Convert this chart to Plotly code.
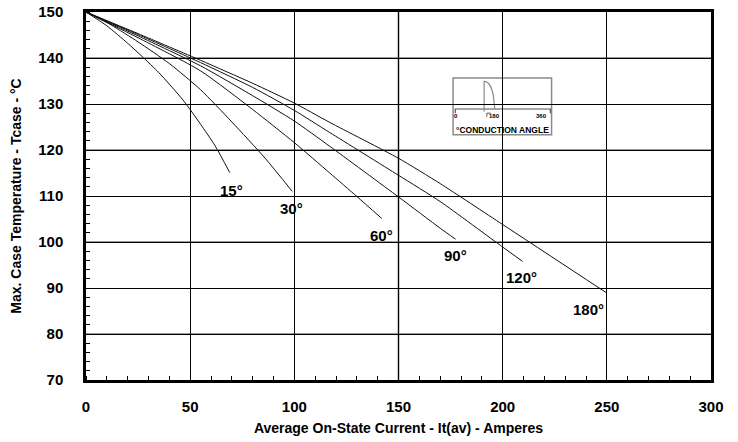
import plotly.graph_objects as go

# ---- data ----
angles = ["15°", "30°", "60°", "90°", "120°", "180°"]

i_15 = [0, 10, 20, 27, 35, 46.5, 55, 62, 69]
t_15 = [150, 147.0, 143.2, 140.3, 136.8, 130.9, 125.6, 120.9, 115.1]

i_30 = [0, 12, 25, 40, 55, 70, 86, 99]
t_30 = [150, 147.2, 143.5, 138.8, 133.1, 126.1, 118.2, 111.0]

i_60 = [0, 25, 55, 80, 100, 117, 130, 142]
t_60 = [150, 144.4, 137.2, 128.8, 121.6, 115.0, 109.9, 105.1]

i_90 = [0, 25, 55, 80, 100, 117, 150, 170, 177.4]
t_90 = [150, 144.8, 138.3, 131.8, 126.3, 120.8, 109.8, 103.0, 100.6]

i_120 = [0, 25, 55, 80, 100, 117, 150, 170, 200, 209.5]
t_120 = [150, 145.1, 139.0, 133.6, 128.6, 123.8, 114.5, 108.8, 98.9, 95.8]

i_180 = [0, 25, 55, 80, 100, 117, 150, 170, 200, 250]
t_180 = [150, 145.3, 139.5, 134.5, 130.2, 126.0, 118.2, 112.7, 103.8, 88.9]

series_i = [i_15, i_30, i_60, i_90, i_120, i_180]
series_t = [t_15, t_30, t_60, t_90, t_120, t_180]

# label anchor positions (data units)
label_i = [69.7, 98.6, 141.6, 177.2, 209.1, 241.1]
label_t = [111.2, 107.2, 101.4, 97.0, 92.2, 85.3]

x_ticks = [0, 50, 100, 150, 200, 250, 300]
y_ticks = [70, 80, 90, 100, 110, 120, 130, 140, 150]

FONT = "Arial, Liberation Sans, sans-serif"

fig = go.Figure()
for xs, ys, name in zip(series_i, series_t, angles):
    fig.add_trace(go.Scatter(
        x=xs, y=ys, mode="lines", name=name,
        line=dict(color="#111111", width=1, shape="spline", smoothing=0.6),
        showlegend=False, hoverinfo="skip"))

for li, lt, name in zip(label_i, label_t, angles):
    fig.add_annotation(x=li, y=lt, text=name, showarrow=False,
                       font=dict(family=FONT, size=15, color="black", weight="bold"),
                       xanchor="center", yanchor="middle")

shapes = []
# gray gridlines (alternate lines look gray in the reference)
for yv in [80, 100, 120, 140]:
    shapes.append(dict(type="line", xref="paper", x0=0, x1=1, yref="y", y0=yv, y1=yv,
                       line=dict(color="#9a9a9a", width=2), layer="between"))
shapes.append(dict(type="line", yref="paper", y0=0, y1=1, xref="x", x0=150, x1=150,
                   line=dict(color="#9a9a9a", width=2), layer="between"))

# inset (pixel -> paper conversion)
PX0, PX1, PY0, PY1 = 86.5, 711.0, 12.3, 380.3
def px(v):
    return (v - PX0) / (PX1 - PX0)
def py(v):
    return (PY1 - v) / (PY1 - PY0)

shapes.append(dict(type="rect", xref="paper", yref="paper",
                   x0=px(453.3), x1=px(551.7), y0=py(135), y1=py(78.3),
                   fillcolor="white", line=dict(color="#8a8a8a", width=1.5), layer="between"))
# baseline of inset axis
shapes.append(dict(type="line", xref="paper", yref="paper",
                   x0=px(455), x1=px(551), y0=py(109.3), y1=py(109.3),
                   line=dict(color="#555555", width=1.2), layer="between"))
for xv in [455.5, 550.5]:
    shapes.append(dict(type="line", xref="paper", yref="paper",
                       x0=px(xv), x1=px(xv), y0=py(109.3), y1=py(113.5),
                       line=dict(color="#555555", width=1.2), layer="between"))
# waveform (sine tail)
path = "M {a},{b} L {a},{c} Q {d},{c} {e},{f} L {g},{h}".format(
    a=px(484.3), b=py(111.7), c=py(81.7), d=px(491), e=px(493.5), f=py(96),
    g=px(495), h=py(109.3))
shapes.append(dict(type="path", xref="paper", yref="paper", path=path,
                   line=dict(color="#8a8a8a", width=1.2), layer="between"))
shapes.append(dict(type="path", xref="paper", yref="paper",
                   path="M {a},{b} L {a},{c} L {d},{c}".format(a=px(487), b=py(117), c=py(113.5), d=px(491)),
                   line=dict(color="#555555", width=1), layer="between"))
fig.update_layout(shapes=shapes)

for txt, xv in [("0", 456.5), ("180", 495), ("360", 541.5)]:
    fig.add_annotation(xref="paper", yref="paper", x=px(xv), y=py(116.5), text=txt,
                       showarrow=False, xanchor="center", yanchor="middle",
                       font=dict(family=FONT, size=6, color="black", weight="bold"))
fig.add_annotation(xref="paper", yref="paper", x=px(502.5), y=py(130.5), text="°CONDUCTION ANGLE",
                   showarrow=False, xanchor="center", yanchor="middle",
                   font=dict(family=FONT, size=8.5, color="black", weight="bold"))

fig.update_xaxes(
    range=[0, 300], tickvals=x_ticks, ticktext=[str(v) for v in x_ticks],
    showgrid=True, gridcolor="black", gridwidth=1,
    showline=True, linecolor="black", linewidth=2.5, mirror=True,
    ticks="", zeroline=False, ticklabelstandoff=11,
    tickfont=dict(family=FONT, size=15, color="black", weight="bold"),
    minor=dict(dtick=10, ticks="inside", ticklen=4, tickcolor="black", tickwidth=1, showgrid=False),
    title=dict(text="Average On-State Current - It(av) - Amperes", standoff=10,
               font=dict(family=FONT, size=14, color="black", weight="bold")))
fig.update_yaxes(
    range=[70, 150], tickvals=y_ticks, ticktext=[str(v) for v in y_ticks],
    showgrid=True, gridcolor="black", gridwidth=1,
    showline=True, linecolor="black", linewidth=2.5, mirror=True,
    ticks="", zeroline=False, ticklabelstandoff=17,
    tickfont=dict(family=FONT, size=15, color="black", weight="bold"),
    minor=dict(dtick=2, ticks="inside", ticklen=4, tickcolor="black", tickwidth=1, showgrid=False),
    title=dict(text="Max. Case Temperature - Tcase - °C", standoff=14,
               font=dict(family=FONT, size=14, color="black", weight="bold")))

fig.update_layout(
    width=738, height=442,
    margin=dict(l=86, r=27, t=12, b=62, autoexpand=False),
    paper_bgcolor="white", plot_bgcolor="white",
    showlegend=False)

fig.write_html("out.html", config={"displayModeBar": False},
               post_script="document.body.style.margin='0px';")
